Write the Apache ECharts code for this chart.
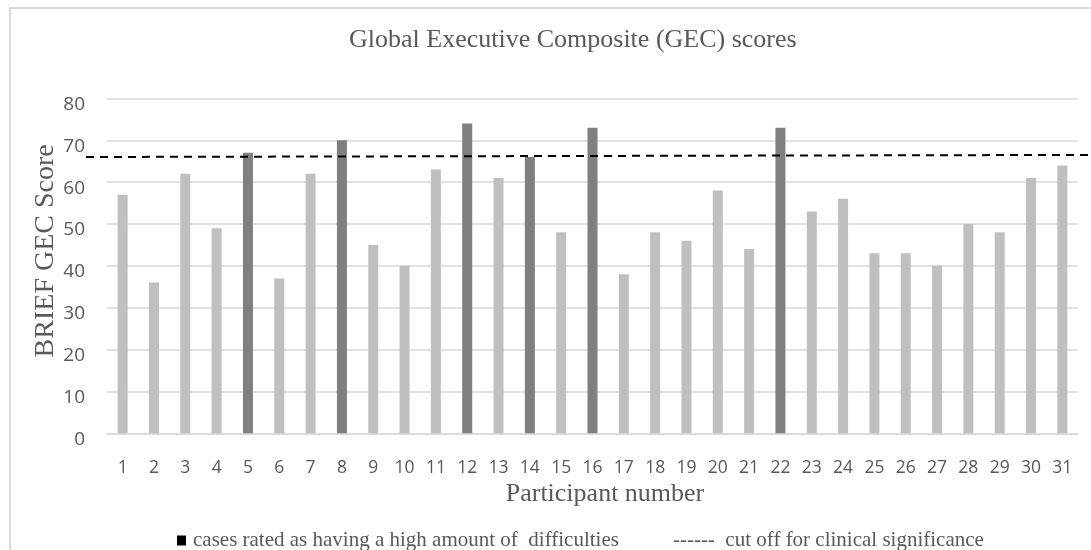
<!DOCTYPE html>
<html>
<head>
<meta charset="utf-8">
<script src="https://cdn.jsdelivr.net/npm/echarts@6/dist/echarts.min.js"></script>
<style>
html, body { margin: 0; padding: 0; background: #fff; overflow: hidden; }
#frame { position: absolute; left: 9px; top: 7px; width: 1200px; height: 700px;
  border-left: 2px solid #d9d9d9; border-top: 2px solid #d9d9d9; box-sizing: border-box; }
#chart { position: absolute; left: 0; top: 0; width: 1091px; height: 550px; }
</style>
</head>
<body>
<div id="frame"></div>
<div id="chart"></div>
<script>
// ---- data ----
const participants = ['1','2','3','4','5','6','7','8','9','10','11','12','13','14','15','16',
  '17','18','19','20','21','22','23','24','25','26','27','28','29','30','31'];
const gecScores = [57, 36, 62, 49, 67, 37, 62, 70, 45, 40, 63, 74, 61, 66, 48, 73,
  38, 48, 46, 58, 44, 73, 53, 56, 43, 43, 40, 50, 48, 61, 64];
const highDifficultyCases = ['5', '8', '12', '14', '16', '22'];
const cutoffLine = [66, 66.5];          // cut off for clinical significance (start, end)
const yTickValues = [0, 10, 20, 30, 40, 50, 60, 70, 80];

const titleText = 'Global Executive Composite (GEC) scores';
const xName = 'Participant number';
const yName = 'BRIEF GEC Score';
const legendHigh = 'cases rated as having a high amount of  difficulties';
const legendCut = '------  cut off for clinical significance';

// ---- styles ----
const serif = '"Liberation Serif", "Times New Roman", serif';
const sans = '"Open Sans", "Noto Sans", sans-serif';
const lightGrey = '#bfbfbf';
const darkGrey = '#7f7f7f';
const textGrey = '#595959';

const barData = gecScores.map((v, i) => ({
  value: v,
  itemStyle: { color: highDifficultyCases.includes(participants[i]) ? darkGrey : lightGrey }
}));

const chart = echarts.init(document.getElementById('chart'), null, { renderer: 'canvas' });
chart.setOption({
  animation: false,
  title: [
    {
      text: titleText,
      left: 349, top: 27, padding: 0,
      textStyle: { fontFamily: serif, fontSize: 26, fontWeight: 'normal', color: textGrey }
    },
    {
      text: '{sq| }{t|' + legendHigh + '}{gap| }{t|' + legendCut + '}',
      left: 177, top: 530, padding: 0,
      textStyle: {
        fontFamily: serif, fontSize: 21, fontWeight: 'normal', color: textGrey,
        rich: {
          sq: { width: 9, height: 10, backgroundColor: '#000', fontSize: 21 },
          t: { fontFamily: serif, fontSize: 21, color: textGrey, padding: [0, 0, 0, 7] },
          gap: { width: 47, fontSize: 21 }
        }
      }
    }
  ],
  grid: { left: 107, right: 13, top: 98.4, bottom: 116.7, containLabel: false },
  xAxis: {
    type: 'category',
    data: participants,
    name: xName,
    nameLocation: 'middle',
    nameGap: 48,
    nameMoveOverlap: false,
    nameTextStyle: { fontFamily: serif, fontSize: 26, color: textGrey, padding: [0, 0, 0, 25] },
    axisLine: { show: true, lineStyle: { color: '#d9d9d9', width: 1.5 } },
    axisTick: { show: false },
    axisLabel: { fontFamily: sans, fontSize: 17.5, color: textGrey, margin: 26, interval: 0 }
  },
  yAxis: {
    type: 'value',
    min: yTickValues[0],
    max: yTickValues[yTickValues.length - 1],
    interval: yTickValues[1] - yTickValues[0],
    name: yName,
    nameLocation: 'middle',
    nameRotate: 90,
    nameGap: 47,
    nameMoveOverlap: false,
    nameTextStyle: { fontFamily: serif, fontSize: 28, color: textGrey, padding: [0, 0, 0, 30] },
    axisLine: { show: false },
    axisTick: { show: false },
    splitLine: { show: true, lineStyle: { color: '#d9d9d9', width: 1.5 } },
    axisLabel: { fontFamily: sans, fontSize: 19, color: textGrey, margin: 22,
      verticalAlign: 'top', lineHeight: 12 }
  },
  series: [
    {
      type: 'bar',
      data: barData,
      barWidth: 10,
      clip: false,
      markLine: {
        silent: true,
        symbol: ['none', 'none'],
        label: { show: false },
        lineStyle: { color: '#000', width: 2, type: [8, 6] },
        emphasis: { disabled: true },
        data: [[{ x: 86, yAxis: cutoffLine[0] }, { x: 1090, yAxis: cutoffLine[1] }]]
      }
    }
  ]
});
</script>
</body>
</html>
